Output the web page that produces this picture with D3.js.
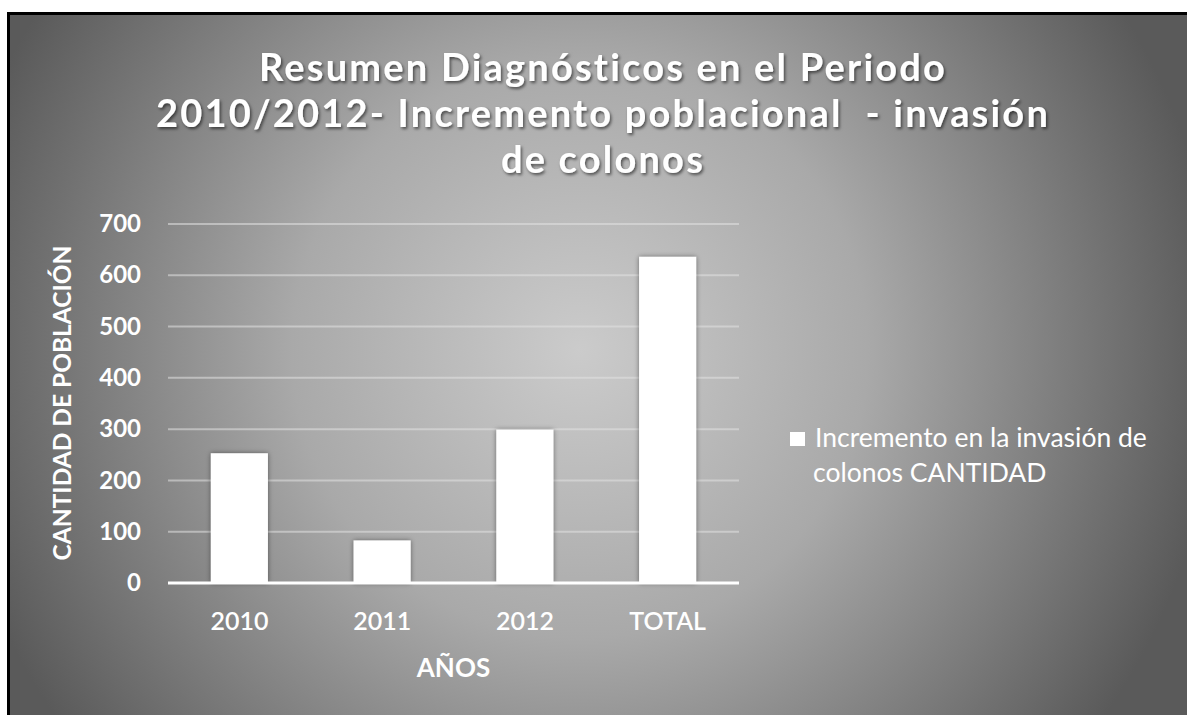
<!DOCTYPE html>
<html>
<head>
<meta charset="utf-8">
<script src="https://cdn.jsdelivr.net/npm/d3@7"></script>
<style>
  body { margin: 0; background: #fff; }
  svg { display: block; }
  text { font-family: Lato, "Open Sans", sans-serif; fill: #fff; }
</style>
</head>
<body>
<div class="svg-container"></div>
<script>
var categories = ["2010", "2011", "2012", "TOTAL"];
var values = [253, 83, 299, 636];
var yTicks = [0, 100, 200, 300, 400, 500, 600, 700];
var titleLines = ["Resumen Diagnósticos en el Periodo",
                  "2010/2012- Incremento poblacional  - invasión",
                  "de colonos"];
var seriesName = ["Incremento en la invasión de", "colonos CANTIDAD"];
var yTitle = "CANTIDAD DE POBLACIÓN";
var xTitle = "AÑOS";

function render() {
    var width = 1187;
    var height = 715;
    var plot = { left: 168, right: 739, top: 224, bottom: 583 };

    var svg = d3.select(".svg-container").append("svg")
        .attr("width", width)
        .attr("height", height);

    var defs = svg.append("defs");
    var grad = defs.append("radialGradient")
        .attr("id", "bg")
        .attr("gradientUnits", "userSpaceOnUse")
        .attr("cx", 580).attr("cy", 350).attr("r", 640);
    grad.append("stop").attr("offset", "0%").attr("stop-color", "#cbcbcb");
    grad.append("stop").attr("offset", "45%").attr("stop-color", "#a9a9a9");
    grad.append("stop").attr("offset", "100%").attr("stop-color", "#5a5a5a");

    var shadow = defs.append("filter").attr("id", "shadow")
        .attr("x", "-20%").attr("y", "-20%").attr("width", "140%").attr("height", "140%");
    shadow.append("feDropShadow")
        .attr("dx", 1.5).attr("dy", 2).attr("stdDeviation", 1.5)
        .attr("flood-color", "#000").attr("flood-opacity", 0.55);

    var barShadow = defs.append("filter").attr("id", "barShadow")
        .attr("x", "-20%").attr("y", "-10%").attr("width", "140%").attr("height", "120%");
    barShadow.append("feDropShadow")
        .attr("dx", 0).attr("dy", 0).attr("stdDeviation", 2.5)
        .attr("flood-color", "#000").attr("flood-opacity", 0.45);

    // background + frame
    svg.append("rect")
        .attr("x", 8.5).attr("y", 13.5)
        .attr("width", width + 10).attr("height", height + 10)
        .attr("fill", "url(#bg)")
        .attr("stroke", "#000")
        .attr("stroke-width", 3);

    // title
    svg.append("g").attr("filter", "url(#shadow)")
        .selectAll("text")
        .data(titleLines)
        .enter().append("text")
        .attr("x", 603)
        .attr("y", function(d, i) { return 81 + i * 46; })
        .attr("text-anchor", "middle")
        .style("white-space", "pre")
        .style("font-weight", "bold")
        .style("font-size", "38px")
        .style("letter-spacing", "2.2px")
        .text(function(d) { return d; });

    // scales
    var x = d3.scaleBand()
        .domain(categories)
        .range([plot.left, plot.right])
        .paddingInner(0.6)
        .paddingOuter(0.3);

    var y = d3.scaleLinear()
        .domain([0, 700])
        .range([plot.bottom, plot.top]);

    // gridlines
    svg.append("g")
        .selectAll("line")
        .data(yTicks.filter(function(d) { return d > 0; }))
        .enter().append("line")
        .attr("x1", plot.left).attr("x2", plot.right)
        .attr("y1", function(d) { return y(d); })
        .attr("y2", function(d) { return y(d); })
        .attr("stroke", "#e2e2e2")
        .attr("stroke-opacity", 0.55)
        .attr("stroke-width", 2);

    // Y axis labels
    var yAxis = svg.append("g")
        .attr("transform", "translate(" + (plot.left - 27) + ",0)")
        .call(d3.axisLeft(y).tickValues(yTicks).tickSize(0).tickPadding(0));
    yAxis.select(".domain").remove();
    yAxis.selectAll("text")
        .attr("fill", "#fff")
        .style("font-family", "Lato, sans-serif")
        .style("font-weight", "bold")
        .style("font-size", "24px");

    // bars
    svg.append("g").attr("filter", "url(#barShadow)")
        .selectAll("rect")
        .data(values)
        .enter().append("rect")
        .attr("x", function(d, i) { return x(categories[i]); })
        .attr("y", function(d) { return y(d); })
        .attr("width", x.bandwidth())
        .attr("height", function(d) { return y(0) - y(d); })
        .attr("fill", "#fff");

    // baseline
    svg.append("line")
        .attr("x1", plot.left).attr("x2", plot.right)
        .attr("y1", y(0)).attr("y2", y(0))
        .attr("stroke", "#fff")
        .attr("stroke-width", 3);

    // X axis labels
    var xAxis = svg.append("g")
        .attr("transform", "translate(0," + (plot.bottom + 29) + ")")
        .call(d3.axisBottom(x).tickSize(0).tickPadding(0));
    xAxis.select(".domain").remove();
    xAxis.selectAll("text")
        .attr("fill", "#fff")
        .attr("dy", "0.71em")
        .style("font-family", "Lato, sans-serif")
        .style("font-weight", "600")
        .style("font-size", "25px");

    // X axis title
    svg.append("text")
        .attr("x", (plot.left + plot.right) / 2 + 0)
        .attr("y", 677)
        .attr("text-anchor", "middle")
        .style("font-weight", "bold")
        .style("font-size", "26px")
        .text(xTitle);

    // Y axis title
    svg.append("text")
        .attr("transform", "translate(71," + 403 + ") rotate(-90)")
        .attr("text-anchor", "middle")
        .style("font-weight", "bold")
        .style("font-size", "24.5px")
        .text(yTitle);

    // legend
    var legend = svg.append("g");
    legend.append("rect")
        .attr("x", 790).attr("y", 432)
        .attr("width", 15).attr("height", 14)
        .attr("fill", "#fff");
    legend.selectAll("text")
        .data(seriesName)
        .enter().append("text")
        .attr("x", function(d, i) { return i === 0 ? 815 : 813; })
        .attr("y", function(d, i) { return 447 + i * 35; })
        .style("font-size", "26.5px")
        .text(function(d) { return d; });
}

render();
</script>
</body>
</html>
